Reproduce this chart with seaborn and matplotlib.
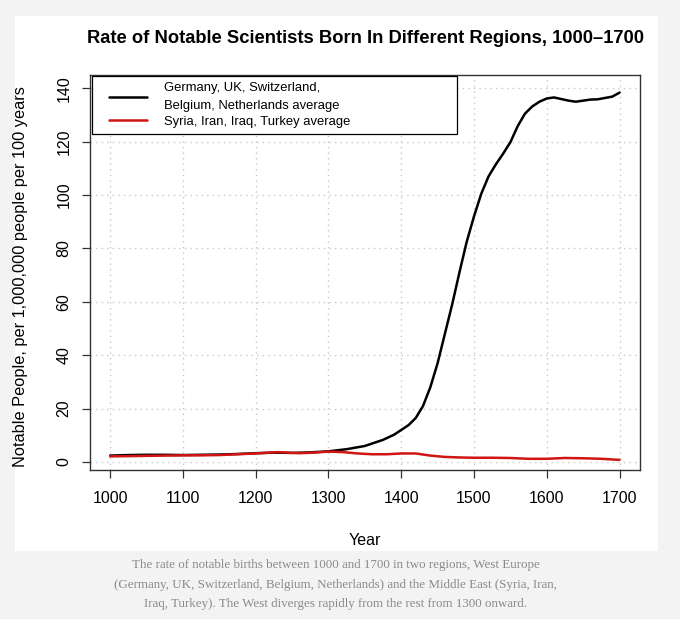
import pandas as pd
import seaborn as sns
import matplotlib.pyplot as plt
from matplotlib.patches import Rectangle
from matplotlib.lines import Line2D
from matplotlib.legend_handler import HandlerLine2D

# data
west_label = "Germany, UK, Switzerland,\nBelgium, Netherlands average"
east_label = "Syria, Iran, Iraq, Turkey average"

west_years = [1000, 1025, 1050, 1075, 1100, 1125, 1150, 1175, 1200, 1225, 1250, 1275,
              1300, 1325, 1350, 1375, 1390, 1400, 1410, 1420, 1430, 1440, 1450, 1460,
              1470, 1480, 1490, 1500, 1510, 1520, 1530, 1540, 1550, 1560, 1570, 1580,
              1590, 1600, 1610, 1620, 1630, 1640, 1650, 1660, 1670, 1680, 1690, 1700]
west_values = [2.4, 2.6, 2.7, 2.7, 2.6, 2.7, 2.8, 3.0, 3.3, 3.5, 3.4, 3.6,
               4.0, 4.8, 6.0, 8.3, 10.2, 12.0, 13.8, 16.5, 21.0, 28.0, 37.0, 48.0,
               59.0, 71.0, 82.5, 92.0, 100.5, 107.0, 111.5, 115.5, 119.8, 125.8, 130.5, 133.2,
               135.0, 136.2, 136.6, 136.0, 135.4, 135.0, 135.4, 135.8, 135.9, 136.4, 136.9, 138.4]

east_years = [1000, 1025, 1050, 1075, 1100, 1125, 1150, 1175, 1200, 1230, 1260, 1280,
              1300, 1320, 1340, 1360, 1380, 1400, 1420, 1440, 1460, 1480, 1500, 1525,
              1550, 1575, 1600, 1625, 1650, 1675, 1700]
east_values = [2.1, 2.2, 2.3, 2.4, 2.5, 2.5, 2.6, 2.9, 3.2, 3.7, 3.3, 3.5,
               3.9, 3.7, 3.2, 2.9, 2.9, 3.2, 3.2, 2.4, 1.9, 1.7, 1.6, 1.6,
               1.5, 1.2, 1.2, 1.5, 1.4, 1.2, 0.8]

x_ticks = [1000, 1100, 1200, 1300, 1400, 1500, 1600, 1700]
y_ticks = [0, 20, 40, 60, 80, 100, 120, 140]

df = pd.concat([
    pd.DataFrame({"year": west_years, "value": west_values, "region": west_label}),
    pd.DataFrame({"year": east_years, "value": east_values, "region": east_label}),
])

sns.set_theme(style="ticks")
plt.rcParams['font.family'] = ['Liberation Sans', 'DejaVu Sans']
plt.rcParams['text.color'] = 'black'
plt.rcParams['axes.labelcolor'] = 'black'

fig = plt.figure(figsize=(6.8, 6.19), dpi=100, facecolor="#f3f3f3")
# white card behind the chart
fig.patches.append(Rectangle((0.022, 0.110), 0.946, 0.864, transform=fig.transFigure,
                             facecolor="white", edgecolor="none", zorder=-10))
ax = fig.add_axes([0.132, 0.2407, 0.809, 0.6381])
ax.set_facecolor("white")

sns.lineplot(data=df, x="year", y="value", hue="region", estimator=None,
             palette={west_label: "black", east_label: "#d01515"},
             linewidth=1.8, ax=ax)

ax.set_xlim(972, 1728)
ax.set_ylim(-3, 145)
ax.set_xticks(x_ticks)
ax.set_yticks(y_ticks)
ax.set_yticklabels([str(v) for v in y_ticks], rotation=90, va="center")
ax.grid(True, color="#c8c8c8", linestyle=(0, (1, 3)), linewidth=1)
ax.tick_params(axis="both", length=6, width=0.9, color="#333333", labelsize=11.5,
               labelcolor="black")
ax.tick_params(axis="x", pad=9)
ax.tick_params(axis="y", pad=7)
for s in ax.spines.values():
    s.set_color("#333333")
    s.set_linewidth(1.0)

ax.set_xlabel("Year", fontsize=11.5)
ax.set_ylabel("Notable People, per 1,000,000 people per 100 years", fontsize=11.8)
ax.xaxis.set_label_coords(0.5, -0.16)
ax.yaxis.set_label_coords(-0.113, 0.49)

handles, labels = ax.get_legend_handles_labels()
leg = ax.legend(handles, labels, loc="upper left", bbox_to_anchor=(0.0036, 0.0, 0.664, 0.998),
                mode="expand", fontsize=9.4, frameon=True, fancybox=False,
                edgecolor="black", framealpha=1, borderaxespad=0, borderpad=0.5,
                handlelength=3.7, handletextpad=1.3, labelspacing=0.3,
                handler_map={Line2D: HandlerLine2D(xpad=0.8)})
leg.get_frame().set_linewidth(0.9)
for t in leg.get_texts():
    t.set_linespacing(1.58)

fig.text(0.537, 0.938, "Rate of Notable Scientists Born In Different Regions, 1000\u20131700",
         ha="center", va="center", fontsize=13.2, fontweight="bold")

caption = ("The rate of notable births between 1000 and 1700 in two regions, West Europe\n"
           "(Germany, UK, Switzerland, Belgium, Netherlands) and the Middle East (Syria, Iran,\n"
           "Iraq, Turkey). The West diverges rapidly from the rest from 1300 onward.")
fig.text(0.494, 0.0555, caption, ha="center", va="center", fontsize=9.4,
         family=["Liberation Serif", "DejaVu Serif"], color="#8a8a8a", linespacing=1.86)

fig.savefig("out.png", dpi=100, facecolor=fig.get_facecolor())
